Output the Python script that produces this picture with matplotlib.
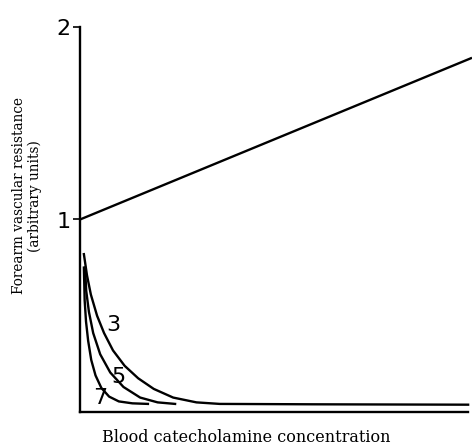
import matplotlib
matplotlib.use("Agg")
import matplotlib.pyplot as plt

# straight line: resistance vs concentration
line_x = [0.0, 10.1]
line_y = [1.0, 1.84]

# falling curves, labelled 3, 5, 7
c3_x = [0.10, 0.18, 0.28, 0.44, 0.62, 0.85, 1.15, 1.50, 1.90, 2.40, 3.00, 3.60, 6.0, 10.0]
c3_y = [0.82, 0.71, 0.61, 0.50, 0.41, 0.32, 0.24, 0.175, 0.12, 0.075, 0.05, 0.042, 0.040, 0.038]
c5_x = [0.13, 0.16, 0.23, 0.34, 0.52, 0.78, 1.12, 1.55, 2.00, 2.45]
c5_y = [0.75, 0.63, 0.52, 0.41, 0.30, 0.205, 0.13, 0.075, 0.05, 0.042]
c7_x = [0.10, 0.12, 0.155, 0.21, 0.29, 0.40, 0.55, 0.75, 1.00, 1.35, 1.75]
c7_y = [0.75, 0.58, 0.47, 0.37, 0.27, 0.19, 0.125, 0.08, 0.055, 0.045, 0.042]

curve_labels = ['3', '5', '7']
label_x = [0.85, 0.98, 0.52]
label_y = [0.45, 0.18, 0.075]

fig = plt.figure(figsize=(4.72, 4.48), dpi=100)
ax = fig.add_axes([80/472, 36/448, 392/472, 385/448])
ax.set_xlim(0, 10.1)
ax.set_ylim(0, 2)

lw = 1.7
ax.plot(line_x, line_y, color='black', lw=lw, solid_capstyle='butt')
for xs, ys in [(c3_x, c3_y), (c5_x, c5_y), (c7_x, c7_y)]:
    ax.plot(xs, ys, color='black', lw=lw, solid_joinstyle='round')

for t, x, y in zip(curve_labels, label_x, label_y):
    ax.text(x, y, t, fontsize=16, ha='center', va='center', family='DejaVu Sans')

# axes
for s in ['top', 'right']:
    ax.spines[s].set_visible(False)
ax.spines['left'].set_linewidth(1.7)
ax.spines['bottom'].set_linewidth(1.7)
ax.spines['bottom'].set_bounds(0, 10.0)
ax.set_xticks([])
ax.set_yticks([1, 2])
ax.set_yticklabels(['1', '2'], fontsize=16)
ax.tick_params(axis='y', length=5, width=1.2, pad=2)

fig.text(246/472, 1 - 437/448, 'Blood catecholamine concentration',
         family='DejaVu Serif', fontsize=11.5, ha='center', va='center')
fig.text(27/472, 1 - 196/448, 'Forearm vascular resistance\n(arbitrary units)',
         family='DejaVu Serif', fontsize=9.8, rotation=90, ha='center', va='center',
         multialignment='center', linespacing=1.1)

fig.savefig('out.png', dpi=100)
